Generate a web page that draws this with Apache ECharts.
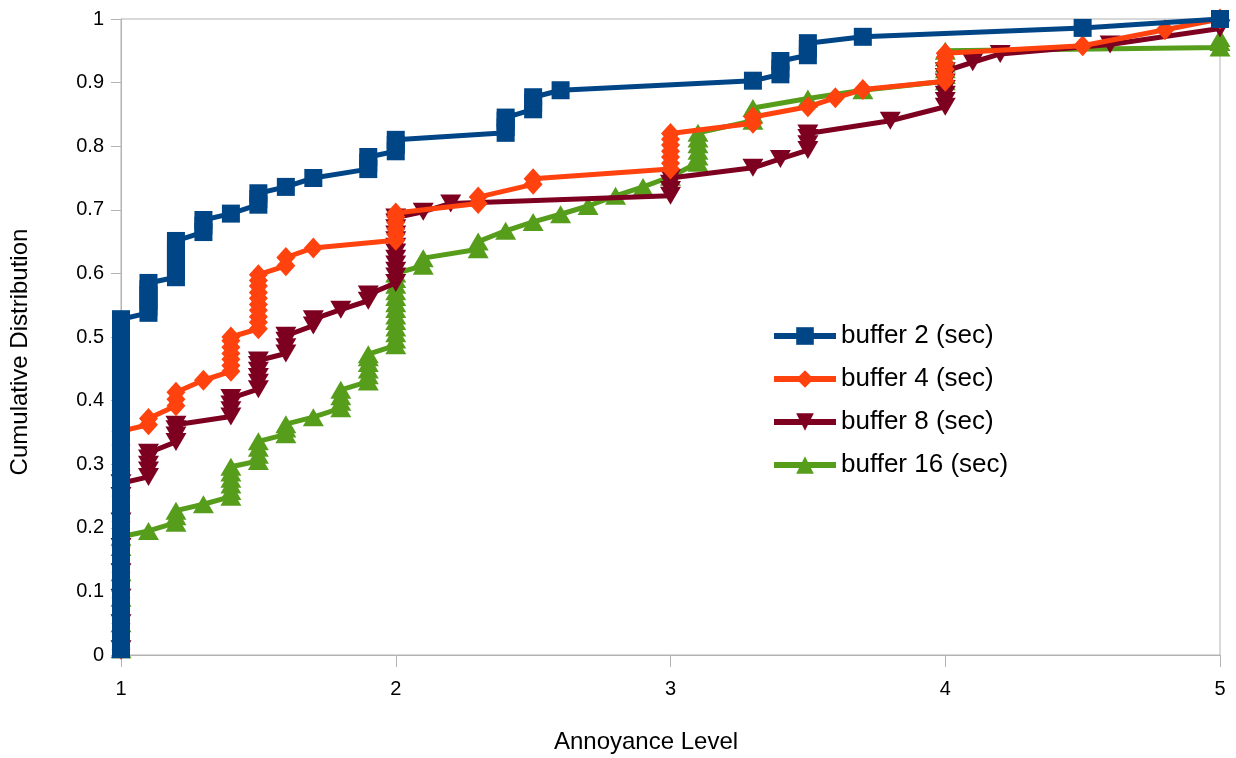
<!DOCTYPE html>
<html>
<head>
<meta charset="utf-8">
<script src="https://cdn.jsdelivr.net/npm/echarts@6/dist/echarts.min.js"></script>
<style>
html,body{margin:0;padding:0;background:#fff;}
#chart{width:1236px;height:758px;}
</style>
</head>
<body>
<div id="chart"></div>
<script>
const seriesNames = ['buffer 2 (sec)', 'buffer 4 (sec)', 'buffer 8 (sec)', 'buffer 16 (sec)'];
const xTicks = [1, 2, 3, 4, 5];
const yTicks = [0, 0.1, 0.2, 0.3, 0.4, 0.5, 0.6, 0.7, 0.8, 0.9, 1];

const buffer2 = [
  [1,0.009],[1,0.028],[1,0.047],[1,0.066],[1,0.085],[1,0.104],[1,0.123],[1,0.142],[1,0.160],[1,0.179],
  [1,0.198],[1,0.217],[1,0.236],[1,0.255],[1,0.274],[1,0.292],[1,0.311],[1,0.330],[1,0.349],[1,0.368],
  [1,0.387],[1,0.406],[1,0.425],[1,0.443],[1,0.462],[1,0.481],[1,0.500],[1,0.519],[1,0.528],
  [1.1,0.538],[1.1,0.547],[1.1,0.557],[1.1,0.566],[1.1,0.575],[1.1,0.585],
  [1.2,0.594],[1.2,0.604],[1.2,0.613],[1.2,0.623],[1.2,0.632],[1.2,0.642],[1.2,0.651],
  [1.3,0.665],[1.3,0.675],[1.3,0.684],
  [1.4,0.694],
  [1.5,0.708],[1.5,0.717],[1.5,0.726],
  [1.6,0.736],
  [1.7,0.750],
  [1.9,0.764],[1.9,0.774],[1.9,0.783],
  [2,0.792],[2,0.802],[2,0.810],
  [2.4,0.821],[2.4,0.830],[2.4,0.840],[2.4,0.845],
  [2.5,0.858],[2.5,0.868],[2.5,0.877],
  [2.6,0.888],
  [3.3,0.903],
  [3.4,0.913],[3.4,0.922],[3.4,0.934],
  [3.5,0.943],[3.5,0.953],[3.5,0.962],
  [3.7,0.972],
  [4.5,0.986],
  [5,1.0]
];

const buffer4 = [
  [1,0.009],[1,0.05],[1,0.09],[1,0.13],[1,0.17],[1,0.21],[1,0.25],[1,0.29],[1,0.33],[1,0.352],
  [1.1,0.362],[1.1,0.372],
  [1.2,0.392],[1.2,0.402],[1.2,0.413],
  [1.3,0.432],
  [1.4,0.446],[1.4,0.455],[1.4,0.465],[1.4,0.474],[1.4,0.484],[1.4,0.494],[1.4,0.500],
  [1.5,0.513],[1.5,0.523],[1.5,0.532],[1.5,0.542],[1.5,0.551],[1.5,0.561],[1.5,0.570],[1.5,0.580],[1.5,0.589],[1.5,0.598],
  [1.6,0.612],[1.6,0.625],
  [1.7,0.640],
  [2,0.652],[2,0.661],[2,0.670],[2,0.680],[2,0.689],[2,0.695],
  [2.3,0.710],[2.3,0.720],
  [2.5,0.740],[2.5,0.749],
  [3,0.764],[3,0.773],[3,0.783],[3,0.792],[3,0.802],[3,0.811],[3,0.820],
  [3.3,0.836],[3.3,0.846],
  [3.5,0.862],
  [3.6,0.876],
  [3.7,0.889],
  [4,0.902],[4,0.911],[4,0.921],[4,0.930],[4,0.940],[4,0.946],
  [4.5,0.958],
  [4.8,0.983],
  [5,1.0]
];

const buffer8 = [
  [1,0.009],[1,0.05],[1,0.09],[1,0.13],[1,0.17],[1,0.21],[1,0.25],[1,0.27],
  [1.1,0.280],[1.1,0.290],[1.1,0.299],[1.1,0.309],[1.1,0.318],
  [1.2,0.335],[1.2,0.345],[1.2,0.355],[1.2,0.362],
  [1.4,0.375],[1.4,0.385],[1.4,0.394],[1.4,0.404],
  [1.5,0.418],[1.5,0.428],[1.5,0.437],[1.5,0.447],[1.5,0.456],[1.5,0.463],
  [1.6,0.474],[1.6,0.484],[1.6,0.494],[1.6,0.502],
  [1.7,0.518],[1.7,0.528],
  [1.8,0.543],
  [1.9,0.557],[1.9,0.567],
  [2,0.585],[2,0.595],[2,0.604],[2,0.614],[2,0.623],[2,0.633],[2,0.642],[2,0.652],[2,0.661],[2,0.671],[2,0.680],[2,0.688],
  [2.1,0.697],
  [2.2,0.710],
  [3,0.722],[3,0.731],[3,0.741],[3,0.750],
  [3.3,0.766],
  [3.4,0.780],
  [3.5,0.794],[3.5,0.803],[3.5,0.813],[3.5,0.820],
  [3.8,0.840],
  [4,0.862],[4,0.871],[4,0.881],[4,0.890],[4,0.900],[4,0.909],[4,0.918],
  [4.1,0.932],
  [4.2,0.945],
  [4.6,0.960],
  [5,0.985]
];

const buffer16 = [
  [1,0.009],[1,0.05],[1,0.09],[1,0.13],[1,0.17],[1,0.186],
  [1.1,0.195],
  [1.2,0.208],[1.2,0.218],[1.2,0.227],
  [1.3,0.237],
  [1.4,0.249],[1.4,0.258],[1.4,0.268],[1.4,0.277],[1.4,0.287],[1.4,0.296],
  [1.5,0.305],[1.5,0.315],[1.5,0.326],[1.5,0.336],
  [1.6,0.347],[1.6,0.356],[1.6,0.363],
  [1.7,0.374],
  [1.8,0.388],[1.8,0.398],[1.8,0.407],[1.8,0.417],
  [1.9,0.430],[1.9,0.440],[1.9,0.449],[1.9,0.459],[1.9,0.468],[1.9,0.473],
  [2,0.487],[2,0.496],[2,0.506],[2,0.515],[2,0.525],[2,0.534],[2,0.544],[2,0.553],[2,0.563],[2,0.572],[2,0.582],[2,0.591],[2,0.600],
  [2.1,0.612],[2.1,0.624],
  [2.3,0.638],[2.3,0.650],
  [2.4,0.667],
  [2.5,0.681],
  [2.6,0.693],
  [2.7,0.706],
  [2.8,0.722],
  [2.9,0.736],
  [3,0.752],
  [3.1,0.774],[3.1,0.784],[3.1,0.793],[3.1,0.803],[3.1,0.812],[3.1,0.821],
  [3.3,0.840],[3.3,0.850],[3.3,0.860],
  [3.5,0.875],
  [3.7,0.888],
  [4,0.902],[4,0.912],[4,0.921],[4,0.930],[4,0.940],[4,0.950],
  [5,0.955],[5,0.964],[5,0.970]
];

const colors = ['#004586', '#ff420e', '#7e0021', '#579d1c'];
const FONT = '"Liberation Sans", Arial, sans-serif';

const chart = echarts.init(document.getElementById('chart'), null, {renderer: 'canvas'});

function mkSeries(name, data, color, symbol, size, z) {
  return {
    name: name,
    type: 'line',
    data: data,
    z: z,
    symbol: symbol,
    symbolSize: size,
    showAllSymbol: true,
    lineStyle: {color: color, width: 5},
    itemStyle: {color: color},
    emphasis: {disabled: true}
  };
}

chart.setOption({
  animation: false,
  backgroundColor: '#ffffff',
  grid: {left: 121, right: 16, top: 19, bottom: 103, show: true, borderColor: '#b3b3b3', borderWidth: 1},
  xAxis: {
    type: 'value', min: 1, max: 5, interval: 1,
    axisLine: {show: true, lineStyle: {color: '#b3b3b3', width: 1}},
    axisTick: {show: true, length: 12, lineStyle: {color: '#b3b3b3'}},
    splitLine: {show: false},
    axisLabel: {color: '#000', fontSize: 20, fontFamily: FONT, margin: 24,
      formatter: function (v) { return xTicks.indexOf(v) >= 0 ? String(v) : ''; }}
  },
  yAxis: {
    type: 'value', min: 0, max: 1, interval: 0.1,
    axisLine: {show: true, lineStyle: {color: '#b3b3b3', width: 1}},
    axisTick: {show: true, length: 10, lineStyle: {color: '#b3b3b3'}},
    splitLine: {show: false},
    axisLabel: {color: '#000', fontSize: 20, fontFamily: FONT, margin: 17,
      formatter: function (v) {
        const r = Math.round(v * 10) / 10;
        return yTicks.indexOf(r) >= 0 ? String(r) : '';
      }}
  },
  legend: {
    data: seriesNames,
    orient: 'vertical',
    left: 766,
    top: 318,
    itemWidth: 62,
    itemHeight: 22,
    itemGap: 17,
    lineStyle: {width: 6},
    textStyle: {color: '#000', fontSize: 26, fontFamily: FONT}
  },
  graphic: [
    {type: 'text', x: 646, y: 742,
      style: {text: 'Annoyance Level', fill: '#000', font: '24px ' + FONT, textAlign: 'center', textVerticalAlign: 'middle'}},
    {type: 'text', rotation: Math.PI / 2, x: 20, y: 352,
      style: {text: 'Cumulative Distribution', fill: '#000', font: '24px ' + FONT, textAlign: 'center', textVerticalAlign: 'middle'}}
  ],
  series: [
    mkSeries(seriesNames[0], buffer2, colors[0], 'rect', 18, 5),
    mkSeries(seriesNames[1], buffer4, colors[1], 'diamond', [19, 21], 4),
    mkSeries(seriesNames[2], buffer8, colors[2], 'path://M0,0 L10,0 L5,9 Z', [21, 18], 3),
    mkSeries(seriesNames[3], buffer16, colors[3], 'triangle', [21, 18], 2)
  ]
});
</script>
</body>
</html>
